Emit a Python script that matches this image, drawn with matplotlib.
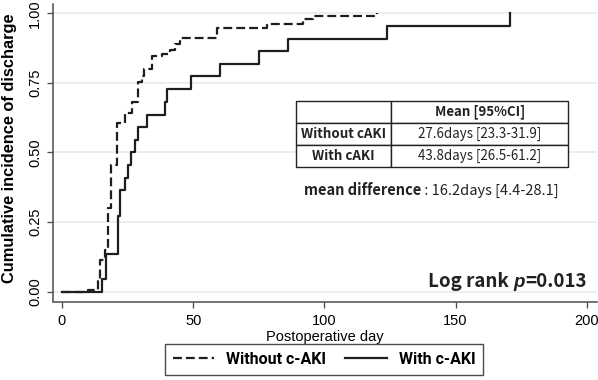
import matplotlib
matplotlib.use("Agg")
import matplotlib.pyplot as plt

# step data (day, cumulative incidence)
days_without = [0, 9.9, 13.7, 14.6, 16.5, 17.6, 18.8, 20.8, 24.0, 26.5, 29.0, 30.5,
                31.3, 34.2, 38.0, 41.0, 43.0, 45.0, 59.0, 78.0, 91.9, 95.7, 120.0]
cum_without = [0, 0.007, 0.04, 0.115, 0.15, 0.30, 0.455, 0.605, 0.643, 0.683, 0.755, 0.775,
               0.80, 0.845, 0.853, 0.869, 0.889, 0.91, 0.946, 0.962, 0.98, 0.99, 1.0]

days_with = [0, 15.1, 16.9, 21.4, 22.0, 24.0, 25.2, 26.3, 28.0, 29.0, 32.3, 39.4, 40.0,
             49.1, 60.2, 75.2, 86.3, 123.8, 170.8]
cum_with = [0, 0.045, 0.136, 0.273, 0.364, 0.409, 0.455, 0.5, 0.545, 0.591, 0.636, 0.682,
            0.727, 0.773, 0.818, 0.864, 0.909, 0.955, 1.0]

x_ticks = [0, 50, 100, 150, 200]
y_ticks = [0, 0.25, 0.5, 0.75, 1.0]
y_ticklabels = ["0.00", "0.25", "0.50", "0.75", "1.00"]

table_header = "Mean [95%CI]"
groups = ["Without cAKI", "With cAKI"]
means_ci = ["27.6days [23.3-31.9]", "43.8days [26.5-61.2]"]
legend_labels = ["Without c-AKI", "With c-AKI"]

W, H = 598, 380
fig = plt.figure(figsize=(W / 100, H / 100), dpi=100)
fig.patch.set_facecolor("white")

left, right, top, bottom = 52.7, 596.7, 4.0, 301.5
ax = fig.add_axes([left / W, 1 - bottom / H, (right - left) / W, (bottom - top) / H])

line_col = "#1e1e1e"
l1, = ax.step(days_without, cum_without, where="post", color=line_col, lw=1.6,
              linestyle=(0, (4, 1.8)))
l2, = ax.step(days_with, cum_with, where="post", color=line_col, lw=1.6)

ax.set_xlim(-3.54, 203.8)
ax.set_ylim(-0.0352, 1.0334)
ax.set_xticks(x_ticks)
ax.set_yticks(y_ticks)
ax.set_yticklabels(y_ticklabels, rotation=90, va="center")

tick_font = ["Liberation Sans", "DejaVu Sans"]
for lab in ax.get_xticklabels() + ax.get_yticklabels():
    lab.set_fontfamily(tick_font)
    lab.set_fontsize(10.5)

spine_col = "#4d4d4d"
for s in ["top", "right"]:
    ax.spines[s].set_visible(False)
for s in ["left", "bottom"]:
    ax.spines[s].set_color(spine_col)
    ax.spines[s].set_linewidth(1.1)
ax.tick_params(axis="x", length=4.3, width=0.95, color=spine_col, pad=5)
ax.tick_params(axis="y", length=4.0, width=0.95, color=spine_col, pad=3.5)

ax.yaxis.grid(True, color="#e8e8e8", lw=1.1)
ax.set_axisbelow(True)

ax.set_xlabel("Postoperative day", fontfamily=tick_font, fontsize=10.5, labelpad=1)
fig.text(10 / W, 1 - 148 / H, "Cumulative incidence of discharge", rotation=90,
         ha="center", va="center", fontfamily=tick_font, fontweight="bold", fontsize=11.8)

# table with means
tx0, tx1, ty0, ty1 = 295.7, 568.3, 101.0, 167.3
bx = (tx0 - left) / (right - left)
by = (bottom - ty1) / (bottom - top)
bw = (tx1 - tx0) / (right - left)
bh = (ty1 - ty0) / (bottom - top)
tbl = ax.table(cellText=[["", table_header], [groups[0], means_ci[0]], [groups[1], means_ci[1]]],
               colWidths=[95.3, 177.3], cellLoc="center", bbox=[bx, by, bw, bh])
tbl.auto_set_font_size(False)
tbl.set_zorder(5)
cjk = ["Noto Sans CJK JP", "DejaVu Sans"]
for (r, c), cell in tbl.get_celld().items():
    cell.set_linewidth(1.0)
    cell.set_edgecolor("#222222")
    cell.set_facecolor("white")
    t = cell.get_text()
    t.set_fontfamily(cjk)
    t.set_fontsize(9.6)
    t.set_color("#222222")
    if r == 0 or c == 0:
        t.set_fontweight("bold")

# legend
leg_font = {"family": ["Roboto", "Liberation Sans"], "weight": "bold", "size": 11.5}
leg = ax.legend([l1, l2], legend_labels, loc="center",
                bbox_to_anchor=(324 / W, 1 - 359.5 / H), bbox_transform=fig.transFigure,
                ncol=2, frameon=True, fancybox=False, prop=leg_font,
                handlelength=2.6, handletextpad=0.75, columnspacing=1.2,
                borderpad=0.5, borderaxespad=0)
leg.get_frame().set_edgecolor("#1e1e1e")
leg.get_frame().set_linewidth(1.0)

# annotations built from pieces so that weights / styles can differ
fig.canvas.draw()
renderer = fig.canvas.get_renderer()


def chain(pieces, x_px, base_px):
    x = x_px
    for txt, kw in pieces:
        t = fig.text(x / W, 1 - base_px / H, txt, va="baseline", ha="left", **kw)
        bb = t.get_window_extent(renderer)
        x += bb.width


chain([("mean difference", dict(fontfamily=cjk, fontweight="bold", fontsize=10.5, color="#222222")),
       (" : 16.2days [4.4-28.1]", dict(fontfamily=cjk, fontsize=10.5, color="#222222"))],
      304, 195)

chain([("Log rank ", dict(fontfamily=cjk, fontweight="bold", fontsize=13.5, color="#222222")),
       ("p", dict(fontfamily=tick_font, fontweight="bold", fontstyle="italic", fontsize=13.5,
                  color="#222222")),
       ("=0.013", dict(fontfamily=cjk, fontweight="bold", fontsize=13.5, color="#222222"))],
      428.3, 286.7)

fig.savefig("out.png", dpi=100, facecolor="white")
